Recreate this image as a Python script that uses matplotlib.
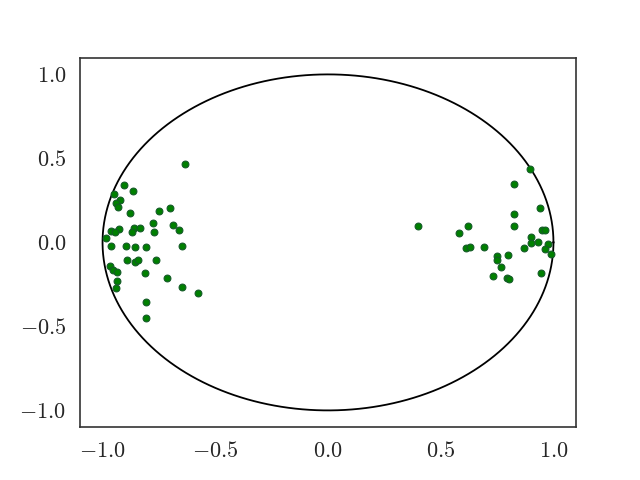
import numpy as np
import matplotlib
matplotlib.use('Agg')
import matplotlib.pyplot as plt
from matplotlib.ticker import FuncFormatter

plt.rcParams['mathtext.fontset'] = 'cm'

# points
x_left = [-0.635, -0.905, -0.865, -0.947, -0.924, -0.939, -0.932, -0.880, -0.749, -0.699,
          -0.776, -0.687, -0.660, -0.771, -0.862, -0.835, -0.869, -0.929, -0.961, -0.943,
          -0.984, -0.964, -0.898, -0.857, -0.808, -0.647, -0.892, -0.857, -0.843, -0.765,
          -0.969, -0.954, -0.935, -0.810, -0.714, -0.936, -0.942, -0.647, -0.578, -0.808,
          -0.808]
y_left = [0.464, 0.343, 0.306, 0.286, 0.252, 0.233, 0.209, 0.173, 0.185, 0.203,
          0.118, 0.104, 0.074, 0.064, 0.088, 0.088, 0.064, 0.080, 0.070, 0.060,
          0.025, -0.019, -0.019, -0.025, -0.025, -0.019, -0.104, -0.114, -0.104, -0.104,
          -0.138, -0.163, -0.177, -0.183, -0.211, -0.228, -0.274, -0.268, -0.302, -0.355,
          -0.450]
x_right = [0.896, 0.823, 0.941, 0.823, 0.823, 0.397, 0.623, 0.583, 0.947, 0.961,
           0.899, 0.932, 0.902, 0.976, 0.868, 0.961, 0.988, 0.612, 0.628, 0.694,
           0.751, 0.751, 0.798, 0.768, 0.943, 0.734, 0.795, 0.805]
y_right = [0.436, 0.345, 0.203, 0.169, 0.098, 0.098, 0.098, 0.054, 0.074, 0.074,
           0.031, 0.005, -0.005, -0.011, -0.034, -0.039, -0.068, -0.036, -0.030, -0.025,
           -0.080, -0.104, -0.076, -0.147, -0.183, -0.199, -0.213, -0.219]

xs = np.array(x_left + x_right)
ys = np.array(y_left + y_right)

theta = np.linspace(0, 2 * np.pi, 400)

fig, ax = plt.subplots(figsize=(6.4, 4.8), dpi=100)
ax.plot(np.cos(theta), np.sin(theta), color='k', linewidth=1.3)
ax.scatter(xs, ys, s=24, c='green', edgecolors='#145a28', linewidths=0.8, zorder=3)

ax.set_xticks([-1.0, -0.5, 0.0, 0.5, 1.0])
ax.set_yticks([-1.0, -0.5, 0.0, 0.5, 1.0])
fmt = FuncFormatter(lambda v, pos: r'$%.1f$' % v)
ax.xaxis.set_major_formatter(fmt)
ax.yaxis.set_major_formatter(fmt)
ax.tick_params(length=0, labelsize=16, pad=10, labelcolor='#262626')
for sp in ax.spines.values():
    sp.set_color('#333333')
    sp.set_linewidth(1.2)

fig.savefig('out.png', dpi=100)
